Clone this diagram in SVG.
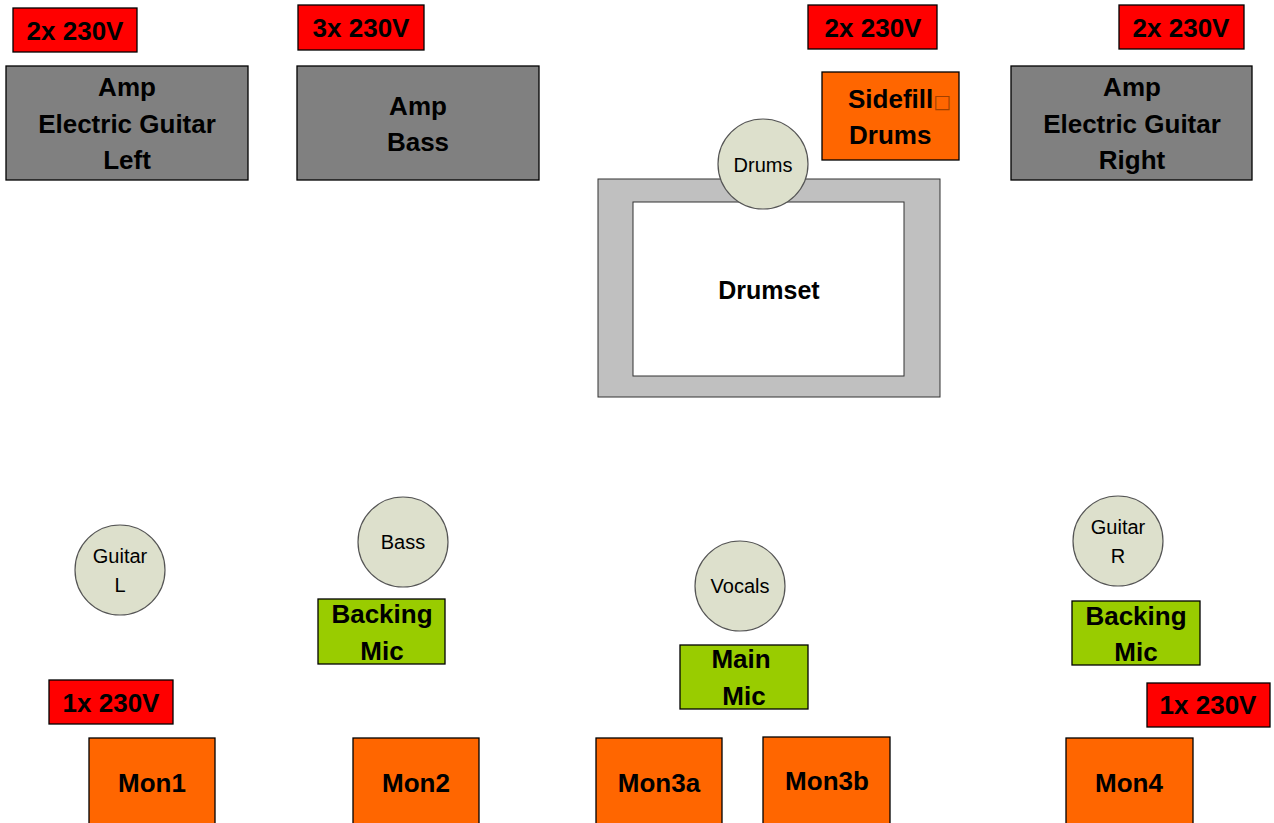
<svg xmlns="http://www.w3.org/2000/svg" width="1274" height="823" viewBox="0 0 1274 823">
<style>
.b{stroke:#000;stroke-width:1.3}
.red{fill:#ff0000}
.amp{fill:#808080}
.or{fill:#ff6600}
.gr{fill:#99cc00}
.mic{fill:#dde0cc;stroke:#555;stroke-width:1.2}
.t{font-family:"Liberation Sans",Arial,sans-serif;font-weight:bold;font-size:26px;fill:#000;text-anchor:middle}
.c{font-family:"Liberation Sans",Arial,sans-serif;font-size:20px;fill:#000;text-anchor:middle}
</style>
<rect width="1274" height="823" fill="#fff"/>
<g id="connectors"/>
<g id="power1"><rect class="b red" x="13" y="8" width="124" height="44"/><text class="t" x="75" y="40">2x 230V</text></g>
<g id="power2"><rect class="b red" x="298" y="5" width="126" height="45"/><text class="t" x="361" y="37">3x 230V</text></g>
<g id="power3"><rect class="b red" x="808" y="5" width="129" height="44"/><text class="t" x="873" y="37">2x 230V</text></g>
<g id="power4"><rect class="b red" x="1119" y="5" width="125" height="44"/><text class="t" x="1181" y="37">2x 230V</text></g>
<g id="ampLeft"><rect class="b amp" x="6" y="66" width="242" height="114"/><text class="t" x="127" y="96">Amp</text><text class="t" x="127" y="133">Electric Guitar</text><text class="t" x="127" y="169">Left</text></g>
<g id="ampBass"><rect class="b amp" x="297" y="66" width="242" height="114"/><text class="t" x="418" y="115">Amp</text><text class="t" x="418" y="151">Bass</text></g>
<g id="ampRight"><rect class="b amp" x="1011" y="66" width="241" height="114"/><text class="t" x="1132" y="96">Amp</text><text class="t" x="1132" y="133">Electric Guitar</text><text class="t" x="1132" y="169">Right</text></g>
<g id="sidefill"><rect class="b or" x="822" y="72" width="137" height="88"/><text class="t" x="848" y="108" style="text-anchor:start">Sidefill<tspan style="font-weight:normal;fill:#a04000;font-size:19px;font-family:'DejaVu Sans',sans-serif">□</tspan></text><text class="t" x="849" y="144" style="text-anchor:start">Drums</text></g>
<g id="drumset"><rect x="598" y="179" width="342" height="218" fill="#c0c0c0" stroke="#333" stroke-width="1"/><rect x="633" y="202" width="271" height="174" fill="#fff" stroke="#333" stroke-width="1"/><text class="t" x="769" y="299" style="font-size:25px">Drumset</text></g>
<g id="drums"><circle class="mic" cx="763" cy="164" r="45"/><text class="c" x="763" y="172">Drums</text></g>
<g id="guitarL"><circle class="mic" cx="120" cy="570" r="45"/><text class="c" x="120" y="563">Guitar</text><text class="c" x="120" y="592">L</text></g>
<g id="bass"><circle class="mic" cx="403" cy="542" r="45"/><text class="c" x="403" y="549">Bass</text></g>
<g id="vocals"><circle class="mic" cx="740" cy="586" r="45"/><text class="c" x="740" y="593">Vocals</text></g>
<g id="guitarR"><circle class="mic" cx="1118" cy="541" r="45"/><text class="c" x="1118" y="534">Guitar</text><text class="c" x="1118" y="563">R</text></g>
<g id="backingMic1"><rect class="b gr" x="318" y="599" width="127" height="65"/><text class="t" x="382" y="623">Backing</text><text class="t" x="382" y="660">Mic</text></g>
<g id="mainMic"><rect class="b gr" x="680" y="645" width="128" height="64"/><text class="t" x="741" y="668">Main</text><text class="t" x="744" y="705">Mic</text></g>
<g id="backingMic2"><rect class="b gr" x="1072" y="601" width="128" height="64"/><text class="t" x="1136" y="625">Backing</text><text class="t" x="1136" y="661">Mic</text></g>
<g id="power5"><rect class="b red" x="49" y="680" width="124" height="44"/><text class="t" x="111" y="712">1x 230V</text></g>
<g id="power6"><rect class="b red" x="1147" y="683" width="123" height="44"/><text class="t" x="1208" y="714">1x 230V</text></g>
<g id="mon1"><rect class="b or" x="89" y="738" width="126" height="100"/><text class="t" x="152" y="792">Mon1</text></g>
<g id="mon2"><rect class="b or" x="353" y="738" width="126" height="100"/><text class="t" x="416" y="792">Mon2</text></g>
<g id="mon3a"><rect class="b or" x="596" y="738" width="126" height="100"/><text class="t" x="659" y="792">Mon3a</text></g>
<g id="mon3b"><rect class="b or" x="763" y="737" width="127" height="100"/><text class="t" x="827" y="790">Mon3b</text></g>
<g id="mon4"><rect class="b or" x="1066" y="738" width="127" height="100"/><text class="t" x="1129" y="792">Mon4</text></g>
</svg>
